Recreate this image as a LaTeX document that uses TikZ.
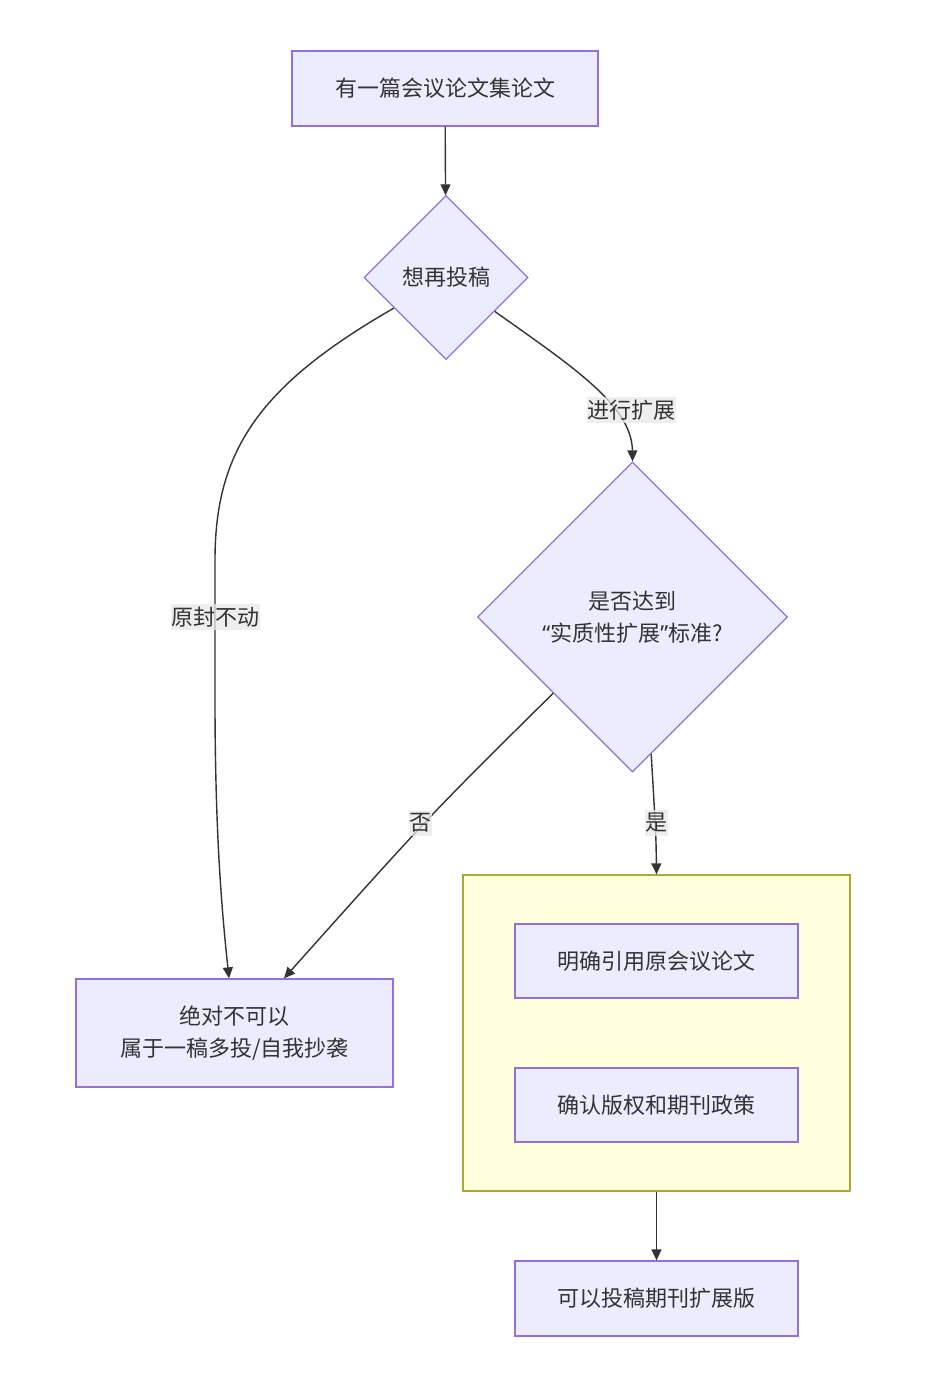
\documentclass[tikz,border=0pt]{standalone}
\usepackage{fontspec}
\setmainfont{Noto Sans CJK SC}
\newfontfamily\latinq{Noto Sans}
\usetikzlibrary{shapes.geometric,arrows.meta,calc}
\definecolor{nodefill}{HTML}{ECECFF}
\definecolor{nodeline}{HTML}{9370DB}
\definecolor{clusterfill}{HTML}{FFFFDE}
\definecolor{clusterline}{HTML}{AAAA33}
\definecolor{edgecol}{HTML}{333333}
\definecolor{labelbg}{HTML}{E8E8E8}
\definecolor{txt}{HTML}{333333}
\tikzset{
  every node/.style={text=txt, font=\fontsize{22}{32}\selectfont},
  procbox/.style={draw=nodeline, fill=nodefill, line width=1.3pt, rectangle, inner sep=0pt, align=center},
  decide/.style={draw=nodeline, fill=nodefill, line width=1.3pt, diamond, aspect=1, inner sep=0pt, align=center},
  clusterbox/.style={draw=clusterline, fill=clusterfill, line width=1.3pt, rectangle, inner sep=0pt},
  edge/.style={draw=edgecol, line width=1.4pt, -{Triangle[length=11pt,width=10pt]}},
  elabel/.style={fill=labelbg, fill opacity=0.75, text opacity=1, inner xsep=0.5pt, inner ysep=3pt},
}
\begin{document}
\begin{tikzpicture}[x=1pt,y=-1pt]
\useasboundingbox (0,0) rectangle (937,1382);
% cluster
\node[clusterbox, minimum width=387pt, minimum height=316pt] (K) at (656.5,1033) {};
% nodes
\node[procbox, minimum width=306pt, minimum height=75pt] (A) at (445,88.5) {有一篇会议论文集论文};
\node[decide, minimum width=164pt, minimum height=164pt] (B) at (446,277.5) {想再投稿};
\node[decide, minimum width=310pt, minimum height=310pt] (C) at (632.5,617) {是否达到\\{\latinq “}实质性扩展{\latinq ”}标准?};
\node[procbox, minimum width=317pt, minimum height=108pt] (D) at (234.5,1033) {绝对不可以\\属于一稿多投/自我抄袭};
\node[procbox, minimum width=283pt, minimum height=74pt] (E) at (656.5,961) {明确引用原会议论文};
\node[procbox, minimum width=283pt, minimum height=74pt] (F) at (656.5,1105) {确认版权和期刊政策};
\node[procbox, minimum width=283pt, minimum height=75pt] (G) at (656.5,1298.5) {可以投稿期刊扩展版};
% edge anchors
\coordinate (bl) at ($(B.west)!0.37!(B.south)$);
\coordinate (br) at ($(B.east)!0.41!(B.south)$);
\coordinate (cl) at ($(C.west)!0.49!(C.south)$);
\coordinate (cr) at ($(C.south)!0.12!(C.east)$);
\coordinate (dA) at ($(D.north)+(-5.5,0)$);
\coordinate (dB) at ($(D.north)+(49.5,0)$);
% edges
\draw[edge] (A) -- (B);
\draw[edge] (bl) .. controls (260,385) and (215,450) .. (215,560) -- (215,700) .. controls (215,850) and (224,930) .. (dA);
\draw[edge] (br) .. controls (570,365) and (632,405) .. (C.north);
\draw[edge] (cl) .. controls (430,815) .. (dB);
\draw[edge] (cr) .. controls (656,835) .. (K.north);
\draw[edge] (K.south) -- (G.north);
% edge labels
\node[elabel] (L1) at (215,617) {原封不动};
\node[elabel] (L2) at (631.5,410) {进行扩展};
\node[elabel] (L3) at (420,823) {否};
\node[elabel] (L4) at (656,823) {是};
\end{tikzpicture}
\end{document}
